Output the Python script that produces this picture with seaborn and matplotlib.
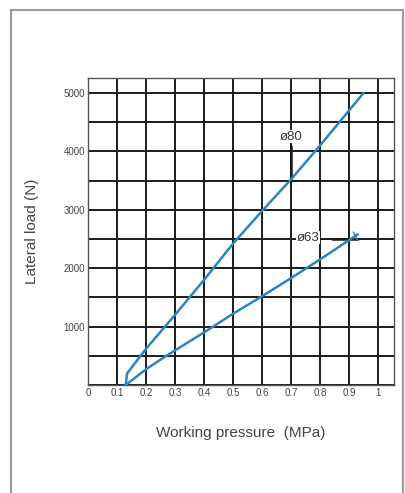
import matplotlib
matplotlib.use("Agg")
import matplotlib.pyplot as plt
import seaborn as sns
import pandas as pd
from matplotlib.patches import Rectangle

# Data
p80 = [0.13, 0.135, 0.2, 0.3, 0.4, 0.5, 0.6, 0.7, 0.8, 0.95]
load80 = [0, 200, 620, 1200, 1800, 2420, 2980, 3520, 4100, 5000]
p63 = [0.13, 0.2, 0.27, 0.4, 0.5, 0.6, 0.7, 0.8, 0.9, 0.93]
load63 = [0, 270, 500, 900, 1220, 1520, 1830, 2150, 2480, 2580]
series_names = ["ø80", "ø63"]
x_ticks = [0, 0.1, 0.2, 0.3, 0.4, 0.5, 0.6, 0.7, 0.8, 0.9, 1]
x_tick_labels = ["0", "0.1", "0.2", "0.3", "0.4", "0.5", "0.6", "0.7", "0.8", "0.9", "1"]
y_grid = [0, 500, 1000, 1500, 2000, 2500, 3000, 3500, 4000, 4500, 5000]
y_ticks = [1000, 2000, 3000, 4000, 5000]

df = pd.concat([
    pd.DataFrame({"p": p80, "load": load80, "s": series_names[0]}),
    pd.DataFrame({"p": p63, "load": load63, "s": series_names[1]}),
])

sns.set_theme(style="white")
plt.rcParams["font.family"] = ["Liberation Sans", "DejaVu Sans"]

fig = plt.figure(figsize=(4.06, 4.93), dpi=100)
ax = fig.add_axes([0.2167, 0.219, 0.7537, 0.623])

# outer frame
fig.patches.append(Rectangle((11/406, -0.05), (403-11)/406, 1 - 10/493 + 0.05,
                             transform=fig.transFigure, fill=False,
                             edgecolor="#9a9a9a", linewidth=1.5))

# grid
for xv in x_ticks:
    ax.axvline(xv, color="#1a1a1a", lw=1.4, zorder=1)
for yv in y_grid:
    ax.axhline(yv, color="#1a1a1a", lw=1.4, zorder=1)

sns.lineplot(data=df, x="p", y="load", hue="s", sort=False, estimator=None,
             palette={"ø80": "#2a86c0", "ø63": "#2a86c0"}, lw=1.8,
             legend=False, ax=ax, zorder=3)

# end tick on ø63
ax.plot([0.915, 0.93], [2620, 2480], color="#2a86c0", lw=1.0, zorder=3)

# annotations
ax.plot([0.7, 0.7], [4100, 3500], color="#1a1a1a", lw=1.8, zorder=2)
ax.text(0.7, 4250, "ø80", ha="center", va="center", fontsize=9.5, color="#333333",
        bbox=dict(facecolor="white", edgecolor="none", pad=0.5), zorder=4)
ax.plot([0.84, 0.93], [2500, 2500], color="#1a1a1a", lw=1.8, zorder=2)
ax.text(0.76, 2520, "ø63", ha="center", va="center", fontsize=9.5, color="#333333",
        bbox=dict(facecolor="white", edgecolor="none", pad=0.5), zorder=4)

ax.set_xlim(0, 1.055)
ax.set_ylim(0, 5258)
ax.set_xticks(x_ticks)
ax.set_xticklabels(x_tick_labels, fontsize=7, color="#444444")
ax.set_yticks(y_ticks)
ax.set_yticklabels([str(v) for v in y_ticks], fontsize=7, color="#444444")
ax.tick_params(axis="both", length=0, pad=2)
ax.set_xlabel("Working pressure  (MPa)", fontsize=11, color="#444444", labelpad=20)
ax.set_ylabel("Lateral load (N)", fontsize=11, color="#444444", labelpad=18)
for sp in ax.spines.values():
    sp.set_color("#555555")
    sp.set_linewidth(1.0)

fig.savefig("out.png", dpi=100)
